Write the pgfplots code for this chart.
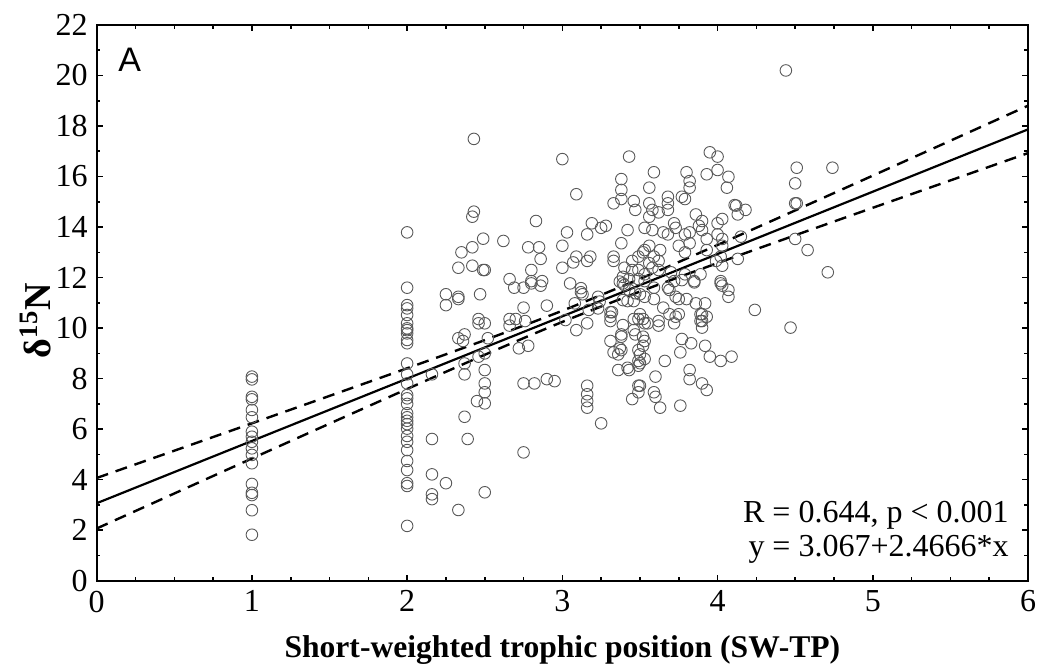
\documentclass[border=0pt]{standalone}
\usepackage{fontspec}
\setmainfont{Liberation Serif}
\newfontfamily\arial{Liberation Sans}
\usepackage{pgfplots}
\pgfplotsset{compat=1.18}
\begin{document}
\begin{tikzpicture}
\useasboundingbox (-48.35pt,-41.65pt) rectangle (472.65pt,290.35pt);
\begin{axis}[
  at={(0,0)}, anchor=south west,
  scale only axis, width=465.65pt, height=277.85pt,
  xmin=0, xmax=6, ymin=0, ymax=22,
  xtick={0,1,2,3,4,5,6}, ytick={0,2,4,6,8,10,12,14,16,18,20,22},
  minor x tick num=3, minor y tick num=1,
  xtick pos=both, ytick pos=both,
  tick align=inside,
  major tick length=3pt, minor tick length=1.8pt,
  every tick/.style={black, line width=0.8pt},
  axis line style={line width=1.1pt},
  tick label style={font=\fontsize{16}{17}\selectfont},
  yticklabel style={xshift=-1pt},
  xticklabel style={yshift=-1.5pt},
  /pgf/number format/assume math mode=true,
  xlabel={\bfseries Short-weighted trophic position (SW-TP)},
  ylabel={\bfseries δ\textsuperscript{15}N},
  every axis x label/.style={at={(axis description cs:0.5,0)}, anchor=base, yshift=-38.5pt, font=\fontsize{15.8}{17}\selectfont},
  every axis y label/.style={at={(axis description cs:-0.066,0.468)}, rotate=90, anchor=center, font=\fontsize{19}{20}\selectfont},
]
\addplot[only marks, mark=o, mark size=2.9pt, mark options={draw=black!65, line width=0.45pt}] table {
x y
1 8.08
1 7.97
1 7.28
1 7.18
1 6.76
1 6.47
1 5.90
1 5.70
1 5.50
1 5.24
1 4.98
1 4.65
1 3.83
1 3.48
1 3.39
1 2.79
1 1.82
2 13.79
2 11.60
2 10.91
2 10.78
2 10.52
2 10.19
2 9.99
2 9.92
2 9.79
2 9.53
2 9.40
2 8.60
2 8.17
2 7.81
2 7.35
2 7.22
2 7.00
2 6.63
2 6.47
2 6.33
2 6.20
2 6.02
2 5.73
2 5.50
2 5.17
2 4.74
2 4.38
2 3.86
2 3.75
2 2.17
2.43 17.49
3.00 16.69
3.09 15.30
2.43 14.61
2.42 14.41
2.83 14.24
3.03 13.79
2.49 13.54
2.62 13.45
2.42 13.20
2.35 13.00
2.78 13.20
2.85 13.20
3.00 13.26
2.86 12.74
3.09 12.83
3.07 12.60
2.33 12.39
2.42 12.47
2.49 12.30
2.50 12.30
3.00 12.39
2.80 12.30
2.66 11.94
2.69 11.60
2.75 11.60
2.80 11.77
2.80 11.86
2.87 11.86
2.86 11.68
3.05 11.77
2.25 11.34
2.25 10.91
2.33 11.24
2.33 11.15
2.47 11.34
2.90 10.89
2.75 10.81
3.08 10.98
2.46 10.36
2.46 10.19
2.50 10.19
2.66 10.36
2.70 10.36
2.66 10.10
2.76 10.28
2.33 9.60
2.37 9.75
2.36 9.49
2.52 9.60
3.09 9.92
2.16 8.17
2.37 8.60
2.37 8.17
2.46 8.87
2.50 9.00
2.50 8.34
2.50 7.81
2.50 7.46
2.50 7.02
2.45 7.11
2.72 9.20
2.78 9.30
2.75 7.81
2.82 7.81
2.90 7.98
2.95 7.90
2.37 6.49
2.16 5.61
2.39 5.61
2.75 5.08
2.16 4.21
2.25 3.86
2.16 3.42
2.16 3.23
2.50 3.50
2.33 2.80
3.43 16.79
3.95 16.96
4.00 16.79
3.59 16.17
3.80 16.17
3.82 15.82
3.82 15.56
3.93 16.09
4.00 16.26
4.07 15.99
4.06 15.56
3.38 15.90
3.38 15.47
3.38 15.11
3.33 14.94
3.56 15.56
3.46 15.03
3.47 14.68
3.56 14.94
3.58 14.68
3.56 14.41
3.62 14.58
3.68 15.20
3.68 14.94
3.68 14.68
3.77 15.20
3.79 15.11
4.12 14.85
4.18 14.68
4.13 14.50
3.86 14.50
3.90 14.24
4.03 14.32
4.00 14.15
3.19 14.15
3.16 13.71
3.25 13.97
3.28 14.05
3.42 13.88
3.53 13.97
3.58 13.88
3.65 13.79
3.68 13.71
3.72 14.15
3.73 13.97
3.79 13.71
3.82 13.79
3.88 14.05
3.90 13.88
3.93 13.53
4.00 13.71
4.03 13.53
3.38 13.36
3.75 13.26
3.79 13.00
3.82 13.36
3.93 13.09
4.15 13.62
3.53 13.09
3.56 13.26
3.63 13.09
3.16 12.66
3.18 12.83
3.33 12.83
3.33 12.66
3.45 12.66
3.49 12.83
3.52 13.00
3.59 12.83
3.62 12.66
3.56 12.57
3.40 12.39
3.45 12.30
3.49 12.30
3.53 12.13
3.58 12.39
3.62 12.30
3.39 12.03
3.43 11.94
3.49 11.94
3.53 11.86
4.03 13.26
4.02 12.83
3.99 12.66
4.03 12.47
4.13 12.74
4.02 11.86
4.03 11.68
3.70 12.21
3.72 11.86
3.79 12.13
3.85 11.86
3.89 12.13
3.12 11.58
3.12 11.42
3.13 11.34
3.16 10.19
3.31 10.63
3.31 10.28
3.32 10.63
3.39 11.77
3.42 11.07
3.46 11.07
3.46 10.36
3.50 11.34
3.53 11.24
3.59 11.15
3.59 11.60
3.50 10.55
3.53 10.19
3.55 10.19
3.49 10.36
3.52 10.36
3.62 10.28
3.62 10.10
3.65 10.81
3.69 10.55
3.73 10.45
3.72 10.19
3.75 10.55
3.68 11.60
3.69 11.51
3.73 11.24
3.75 11.15
3.80 11.15
3.77 11.90
3.85 11.81
3.86 10.98
3.92 10.98
3.89 10.55
3.90 10.55
3.90 10.28
3.93 10.45
3.89 10.28
3.90 10.02
4.02 11.77
4.07 11.51
4.07 11.24
4.24 10.72
3.38 9.75
3.31 9.49
3.33 9.04
3.36 8.96
3.38 9.13
3.47 9.75
3.52 9.66
3.53 9.49
3.52 9.30
3.49 9.13
3.50 8.96
3.53 8.78
3.49 8.70
3.50 8.61
3.36 8.34
3.42 8.43
3.43 8.34
3.49 8.51
3.66 8.70
3.77 9.57
3.83 9.40
3.76 9.04
3.92 9.30
3.95 8.87
4.02 8.70
4.09 8.87
3.82 8.34
3.82 7.98
3.90 7.81
3.93 7.55
3.60 8.08
3.49 7.72
3.50 7.72
3.49 7.46
3.45 7.19
3.59 7.46
3.60 7.28
3.63 6.85
3.76 6.93
3.16 7.72
3.16 7.38
3.16 7.11
3.16 6.85
3.25 6.23
3.23 11.24
3.24 11.05
3.23 10.78
3.17 10.72
3.02 10.32
3.40 11.70
3.43 11.51
3.47 11.38
3.37 11.84
3.39 11.11
3.31 10.45
3.39 10.12
3.46 9.92
3.38 9.66
3.37 9.20
4.44 20.20
4.51 16.35
4.74 16.35
4.50 15.73
4.50 14.94
4.51 14.94
4.11 14.87
4.50 13.53
4.58 13.09
4.71 12.21
4.47 10.02
};
\addplot[black, line width=1.1pt, no markers] coordinates {(0,3.067) (6,17.867)};
\addplot[black, line width=1.2pt, dash pattern=on 6pt off 4pt, smooth, no markers] coordinates {
(0,4.067) (0.5,5.147) (1,6.230) (1.5,7.316) (2,8.410) (2.5,9.524) (3,10.689) (3.5,11.953) (4,13.292) (4.5,14.659) (5,16.037) (5.5,17.419) (6,18.806)};
\addplot[black, line width=1.2pt, dash pattern=on 6pt off 4pt, smooth, no markers] coordinates {
(0,2.067) (0.5,3.453) (1,4.838) (1.5,6.218) (2,7.590) (2.5,8.944) (3,10.245) (3.5,11.447) (4,12.574) (4.5,13.675) (5,14.763) (5.5,15.847) (6,16.928)};
\node[anchor=base west, inner sep=0pt, xshift=10.65pt, yshift=-23.5pt, font=\arial\fontsize{17}{17}\selectfont] at (rel axis cs:0,1) {A};
\node[anchor=south east, inner sep=0pt, align=right, xshift=-9.5pt, yshift=8.5pt, font=\fontsize{16}{17}\selectfont] at (rel axis cs:1,0) {R = 0.644, p < 0.001\\y = 3.067+2.4666*x};
\end{axis}
\end{tikzpicture}
\end{document}
